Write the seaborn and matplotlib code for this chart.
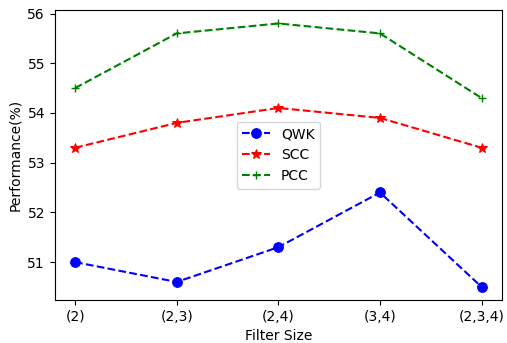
import pandas as pd
import matplotlib
matplotlib.use('Agg')
import matplotlib.pyplot as plt
import seaborn as sns

filter_sizes = ['(2)', '(2,3)', '(2,4)', '(3,4)', '(2,3,4)']
qwk = [51.0, 50.6, 51.3, 52.4, 50.5]
scc = [53.3, 53.8, 54.1, 53.9, 53.3]
pcc = [54.5, 55.6, 55.8, 55.6, 54.3]

pos = list(range(len(filter_sizes)))

fig, ax = plt.subplots(figsize=(5.07, 3.43), dpi=100)

sns.lineplot(x=pos, y=qwk, ax=ax, color='blue', linestyle='--', marker='o',
             markersize=7, markeredgecolor='blue', label='QWK')
sns.lineplot(x=pos, y=scc, ax=ax, color='red', linestyle='--', marker='*',
             markersize=7, markeredgecolor='red', label='SCC')
sns.lineplot(x=pos, y=pcc, ax=ax, color='green', linestyle='--', marker='+',
             markersize=6, markeredgecolor='green', markeredgewidth=1.0, label='PCC')

ax.set_xticks(pos)
ax.set_xticklabels(filter_sizes)
ax.set_xlabel('Filter Size')
ax.set_ylabel('Performance(%)')
ax.legend(loc='center')

plt.subplots_adjust(left=0.108, right=0.99, top=0.97, bottom=0.125)
plt.savefig('out.png', dpi=100)
